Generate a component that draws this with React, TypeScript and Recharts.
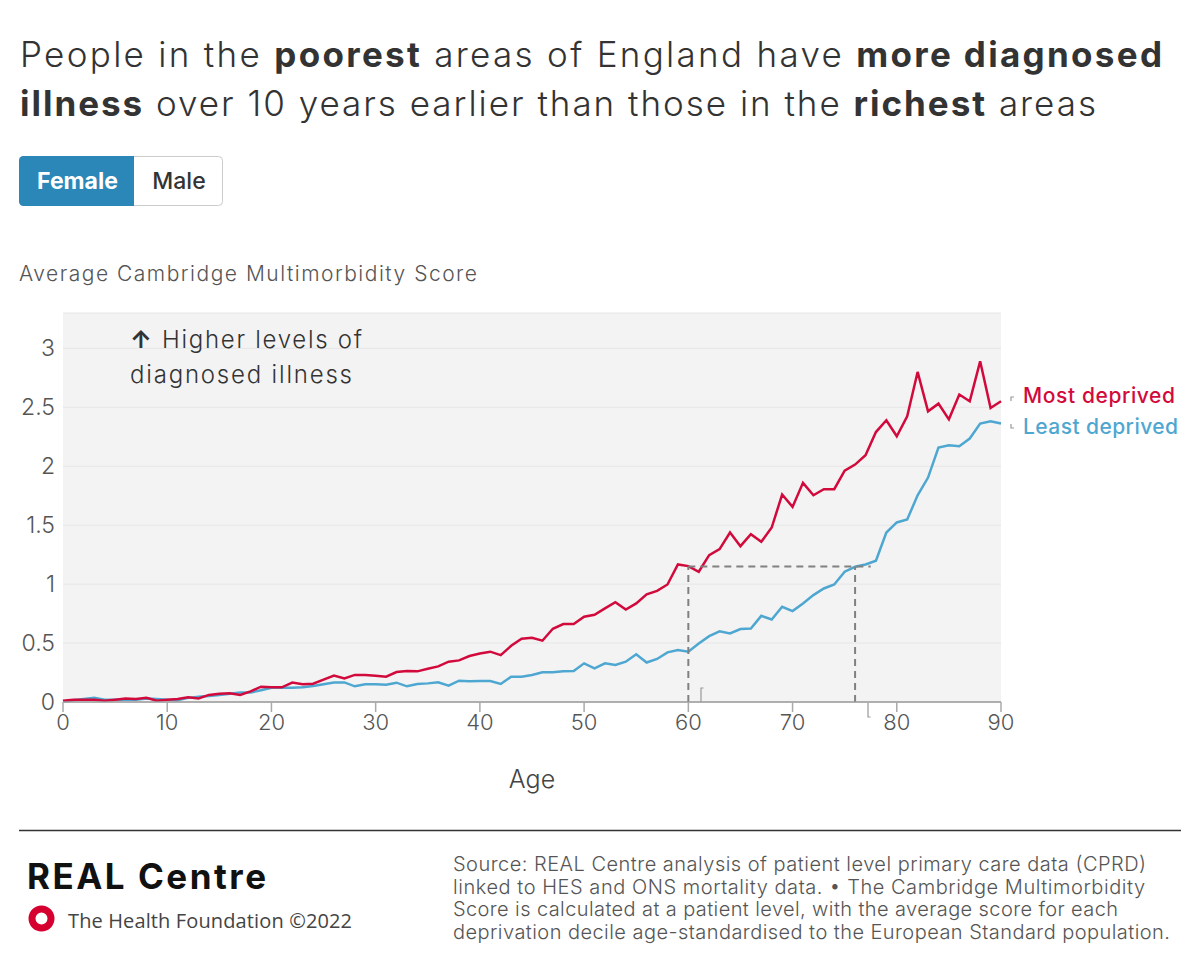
import React from 'react'
import {
  LineChart,
  Line,
  XAxis,
  YAxis,
  CartesianGrid,
  ReferenceLine,
} from 'recharts'

// Age 0..90, average Cambridge Multimorbidity Score (female)
const ages = Array.from({ length: 91 }, (_, i) => i)

const mostDeprived = [
  0.01, 0.02, 0.02, 0.02, 0.01, 0.02, 0.03, 0.025, 0.035, 0.01,
  0.02, 0.025, 0.04, 0.03, 0.06, 0.07, 0.075, 0.06, 0.09, 0.13,
  0.125, 0.125, 0.165, 0.15, 0.155, 0.19, 0.225, 0.2, 0.23, 0.229,
  0.223, 0.215, 0.254, 0.263, 0.26, 0.282, 0.302, 0.342, 0.353, 0.39,
  0.412, 0.427, 0.398, 0.477, 0.537, 0.545, 0.52, 0.621, 0.661, 0.661,
  0.723, 0.74, 0.794, 0.847, 0.785, 0.836, 0.914, 0.943, 0.997, 1.167,
  1.153, 1.105, 1.246, 1.297, 1.438, 1.322, 1.424, 1.359, 1.48, 1.76,
  1.655, 1.859, 1.754, 1.805, 1.805, 1.963, 2.014, 2.093, 2.29, 2.39,
  2.254, 2.424, 2.8, 2.466, 2.531, 2.398, 2.608, 2.551, 2.89, 2.494,
  2.551,
]

const leastDeprived = [
  0.005, 0.015, 0.025, 0.035, 0.02, 0.02, 0.02, 0.02, 0.03, 0.025,
  0.02, 0.015, 0.035, 0.045, 0.05, 0.06, 0.07, 0.08, 0.08, 0.1,
  0.12, 0.12, 0.12, 0.125, 0.135, 0.15, 0.165, 0.166, 0.133, 0.15,
  0.15, 0.147, 0.164, 0.133, 0.153, 0.158, 0.167, 0.138, 0.181, 0.175,
  0.178, 0.178, 0.153, 0.215, 0.215, 0.229, 0.252, 0.252, 0.26, 0.263,
  0.328, 0.285, 0.328, 0.314, 0.342, 0.405, 0.335, 0.365, 0.421, 0.44,
  0.427, 0.497, 0.559, 0.6, 0.582, 0.619, 0.624, 0.731, 0.7, 0.808,
  0.771, 0.836, 0.907, 0.963, 0.997, 1.105, 1.147, 1.167, 1.198, 1.438,
  1.523, 1.548, 1.754, 1.904, 2.158, 2.178, 2.169, 2.235, 2.362, 2.381,
  2.362,
]

const xTicks = [0, 10, 20, 30, 40, 50, 60, 70, 80, 90]
const yTicks = [0, 0.5, 1, 1.5, 2, 2.5, 3]

// the "10 years earlier" guide: same score reached at 60 (most) and 76 (least)
const gapScore = 1.15
const gapFrom = 60
const gapTo = 76
const gapEnd = 77.5

const sourceLines = [
  'Source: REAL Centre analysis of patient level primary care data (CPRD)',
  'linked to HES and ONS mortality data. \u2022 The Cambridge Multimorbidity',
  'Score is calculated at a patient level, with the average score for each',
  'deprivation decile age-standardised to the European Standard population.',
]
const sourceWidths = [693, 692, 665, 717]

const RED = '#d20a3c'
const BLUE = '#4ea7d0'
const FONT = 'Inter, sans-serif'

const data = ages.map((age, i) => ({
  age,
  most: mostDeprived[i],
  least: leastDeprived[i],
}))

const YTick = ({ x, y, payload }: any) => (
  <text x={x} y={y} dy={8} textAnchor="end" fontSize={23} fontWeight={300}
    fontFamily={FONT} fill="#555">
    {payload.value}
  </text>
)

const XTick = ({ x, y, payload }: any) => (
  <text x={x} y={y} dy={16} textAnchor="middle" fontSize={22} fontWeight={300}
    fontFamily={FONT} fill="#555">
    {payload.value}
  </text>
)

export default function App() {
  return (
    <div style={{ position: 'absolute', left: 0, top: 0, width: 1200, height: 960, background: '#fff' }}>
      <LineChart
        width={1200}
        height={960}
        data={data}
        margin={{ top: 313, right: 199, bottom: 218, left: 13 }}
        style={{ position: 'absolute', left: 0, top: 0 }}
      >
        <CartesianGrid vertical={false} fill="#f3f3f4" stroke="#e6e6e7" />
        <XAxis
          dataKey="age"
          type="number"
          domain={[0, 90]}
          ticks={xTicks}
          height={40}
          tickSize={10}
          tickMargin={2}
          tickLine={{ stroke: '#aaa', strokeWidth: 1.5 }}
          axisLine={{ stroke: '#999', strokeWidth: 1.5 }}
          tick={<XTick />}
        />
        <YAxis
          type="number"
          domain={[0, 3.3]}
          ticks={yTicks}
          width={50}
          axisLine={false}
          tickLine={false}
          tick={<YTick />}
        />
        <Line type="linear" dataKey="least" stroke={BLUE} strokeWidth={2.5}
          dot={false} isAnimationActive={false} />
        <Line type="linear" dataKey="most" stroke={RED} strokeWidth={2.5}
          dot={false} isAnimationActive={false} />
        <ReferenceLine segment={[{ x: gapFrom, y: gapScore }, { x: gapEnd, y: gapScore }]}
          stroke="#808080" strokeWidth={2} strokeDasharray="7 5" />
        <ReferenceLine segment={[{ x: gapFrom, y: 0 }, { x: gapFrom, y: gapScore }]}
          stroke="#808080" strokeWidth={2} strokeDasharray="7 5" />
        <ReferenceLine segment={[{ x: gapTo, y: 0 }, { x: gapTo, y: gapScore }]}
          stroke="#808080" strokeWidth={2} strokeDasharray="7 5" />
      </LineChart>

      <svg width={1200} height={960}
        style={{ position: 'absolute', left: 0, top: 0, pointerEvents: 'none' }}>
        <g fontFamily={FONT} fill="#333" fontSize={35} fontWeight={300}>
          <text x={20} y={67} textLength={1142}>
            People in the <tspan fontWeight={700}>poorest</tspan> areas of England have{' '}
            <tspan fontWeight={700}>more diagnosed</tspan>
          </text>
          <text x={20} y={116} textLength={1076}>
            <tspan fontWeight={700}>illness</tspan> over 10 years earlier than those in the{' '}
            <tspan fontWeight={700}>richest</tspan> areas
          </text>
        </g>

        {/* sex toggle */}
        <rect x={19.5} y={156.5} width={203} height={49} rx={4} fill="#fff" stroke="#ccc" />
        <path d="M23.5,156 H134 V206 H23.5 A4.5,4.5 0 0 1 19,201.5 V160.5 A4.5,4.5 0 0 1 23.5,156 Z"
          fill="#2a87b8" />
        <text x={77.5} y={189} textAnchor="middle" fontFamily={FONT} fontSize={23}
          fontWeight={700} fill="#fff">Female</text>
        <text x={179} y={189} textAnchor="middle" fontFamily={FONT} fontSize={23}
          fontWeight={500} fill="#333">Male</text>

        <text x={19} y={281} fontFamily={FONT} fontSize={21} fontWeight={300} fill="#555"
          textLength={458}>
          Average Cambridge Multimorbidity Score
        </text>

        <g fontFamily={FONT} fontSize={24} fontWeight={300} fill="#333">
          <text x={130} y={348} fontWeight={700}>{'\u2191'}</text>
          <text x={162} y={348} textLength={200}>Higher levels of</text>
          <text x={130} y={383} textLength={222}>diagnosed illness</text>
        </g>

        {/* small label connectors */}
        <g stroke="#999" strokeWidth={1.2} fill="none">
          <path d="M701,702 V688 H703.5" />
          <path d="M868,703 V717 H870.5" />
          <path d="M1011,401 V397 H1014" />
          <path d="M1011,424 V428 H1014" />
        </g>

        <text x={1023} y={403} fontFamily={FONT} fontSize={21} fontWeight={500} fill={RED}
          textLength={152}>
          Most deprived
        </text>
        <text x={1023} y={434} fontFamily={FONT} fontSize={21} fontWeight={500} fill={BLUE}
          textLength={155}>
          Least deprived
        </text>

        <text x={532} y={788} textAnchor="middle" fontFamily={FONT} fontSize={25}
          fontWeight={300} fill="#444">Age</text>

        {/* footer */}
        <line x1={19} x2={1181} y1={830.5} y2={830.5} stroke="#333" strokeWidth={1.5} />
        <text x={27} y={889} fontFamily={FONT} fontSize={35}
          fontWeight={700} fill="#111" textLength={239}>REAL Centre</text>
        <circle cx={41.5} cy={918.5} r={9.5} fill="none" stroke="#d5002f" strokeWidth={7} />
        <text x={68} y={928} fontFamily="'Open Sans', sans-serif" fontSize={20} fill="#444"
          textLength={284}>
          The Health Foundation ©2022
        </text>
        <g fontFamily={FONT} fontSize={20} fontWeight={300} fill="#555">
          {sourceLines.map((line, i) => (
            <text key={i} x={453} y={871 + i * 22.5} textLength={sourceWidths[i]}>{line}</text>
          ))}
        </g>
      </svg>
    </div>
  )
}
